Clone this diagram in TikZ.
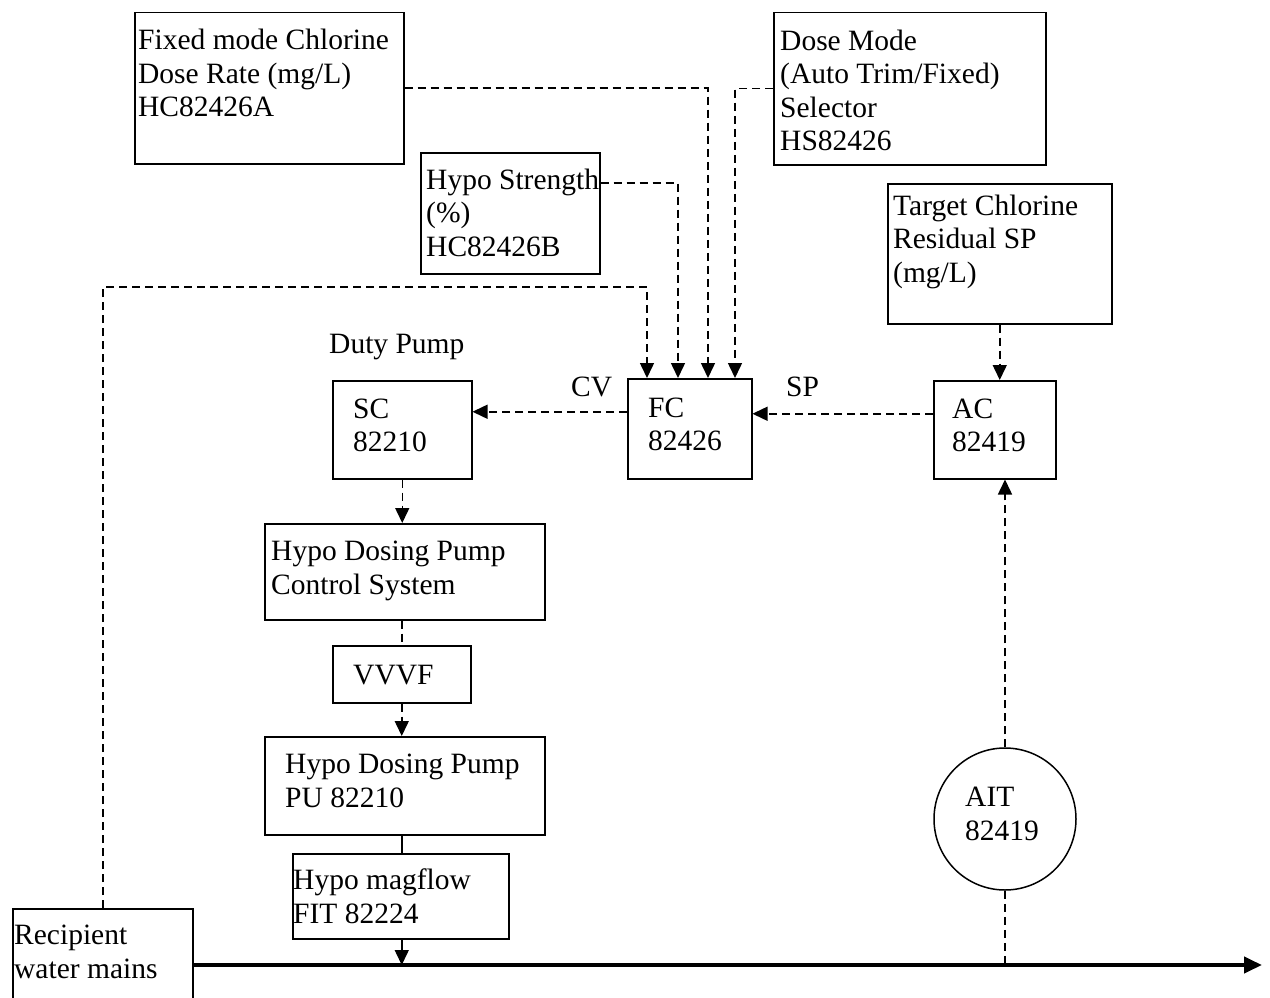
\documentclass[tikz,border=0pt]{standalone}
\usepackage{fontspec}
\setmainfont{Liberation Serif}
\usetikzlibrary{arrows.meta,calc}
\begin{document}
\begin{tikzpicture}[x=1pt,y=-1pt,
  box/.style={draw,line width=1.5pt,inner sep=0pt,anchor=north west},
  txt/.style={inner sep=0pt,anchor=base west,align=left,font=\fontsize{29.5}{33.5}\selectfont},
  dsh/.style={line width=1.5pt,dash pattern=on 8pt off 5pt},
  darr/.style={dsh,-{Triangle[length=15pt,width=14pt]}},
  sarr/.style={line width=1.5pt,-{Triangle[length=15pt,width=14pt]}},
  mainln/.style={line width=4pt,-{Triangle[length=18pt,width=16pt]}}]
\useasboundingbox (0,0) rectangle (1270,998);

% boxes
\node[box,minimum width=269,minimum height=151] (fixed) at (134,12) {};
\node[box,minimum width=272,minimum height=152] (dose) at (773,12) {};
\node[box,minimum width=179,minimum height=121] (hs) at (420,152) {};
\node[box,minimum width=224,minimum height=140] (tgt) at (887,183) {};
\node[box,minimum width=124,minimum height=100] (fc) at (627,378) {};
\node[box,minimum width=122,minimum height=98] (ac) at (933,380) {};
\node[box,minimum width=139,minimum height=98] (sc) at (332,380) {};
\node[box,minimum width=280,minimum height=96] (ctl) at (264,523) {};
\node[box,minimum width=138,minimum height=57] (vvvf) at (332,645) {};
\node[box,minimum width=280,minimum height=98] (pu) at (264,736) {};
\node[box,minimum width=216,minimum height=85] (mag) at (292,853) {};
\node[box,minimum width=180,minimum height=120] (rec) at (12,908) {};
\node[draw,circle,line width=1.5pt,inner sep=0pt,minimum size=142] (ait) at (1005,819) {};

% texts (anchor = baseline of last line)
\node[txt] (tfixed) at (138,117) {Fixed mode Chlorine\\Dose Rate (mg/L)\\HC82426A};
\node[txt] (tdose) at (780,150.5) {Dose Mode\\(Auto Trim/Fixed)\\Selector\\HS82426};
\node[txt] (ths) at (426,256) {Hypo Strength\\(\%)\\HC82426B};
\node[txt] (ttgt) at (893,282) {Target Chlorine\\Residual SP\\(mg/L)};
\node[txt] (tsc) at (353,451.5) {SC\\82210};
\node[txt] (tfc) at (648,450.5) {FC\\82426};
\node[txt] (tac) at (952,451.5) {AC\\82419};
\node[txt] (tctl) at (271,594) {Hypo Dosing Pump\\Control System};
\node[txt] (tvvvf) at (353,684) {VVVF};
\node[txt] (tpu) at (285,807) {Hypo Dosing Pump\\PU 82210};
\node[txt] (tmag) at (293,923) {Hypo magflow\\FIT 82224};
\node[txt] (trec) at (14,978) {Recipient\\water mains};
\node[txt] (tait) at (965,840) {AIT\\82419};
\node[txt] (tduty) at (329,353) {Duty Pump};
\node[txt] (tcv) at (571,396) {CV};
\node[txt] (tsp) at (786,396) {SP};

% coordinates
\coordinate (f1) at ($(fc.north west)+(20,0)$);
\coordinate (f2) at ($(fc.north west)+(51,0)$);
\coordinate (f3) at ($(fc.north west)+(81,0)$);
\coordinate (f4) at ($(fc.north west)+(108,0)$);
\coordinate (recup) at ($(rec.north west)+(91,0)$);
\coordinate (mainstart) at (192,965);
\coordinate (mainend) at (1262,965);

% main water line
\draw[mainln] (mainstart) -- (mainend);

% inputs to FC
\draw[darr] (fixed.east) -| (f3);
\draw[darr] (dose.west) -| (f4);
\draw[darr] ($(hs.north east)+(0,31)$) -| (f2);
\draw[darr] (recup) |- ($(f1)+(0,-91)$) -- (f1);

% control chain
\draw[darr] (tgt.south) -- (tgt.south |- ac.north);
\draw[darr] ($(ac.west)+(0,-16)$) -- ($(fc.east)+(0,-15)$);
\draw[darr] ($(fc.west)+(0,-17)$) -- ($(sc.east)+(0,-18)$);
\draw[darr] (sc.south) -- (sc.south |- ctl.north);
\draw[dsh] (ctl.south -| vvvf.north) -- (vvvf.north);
\draw[darr] (vvvf.south) -- (vvvf.south |- pu.north);
\draw[line width=1.5pt] (pu.south -| vvvf.south) -- (mag.north -| vvvf.south);
\draw[sarr] (mag.south -| vvvf.south) -- (mainstart -| vvvf.south);

% analyser
\draw[darr] (ait.north) -- (ait.north |- ac.south);
\draw[dsh] (ait.south) -- (ait.south |- mainstart);
\end{tikzpicture}
\end{document}
